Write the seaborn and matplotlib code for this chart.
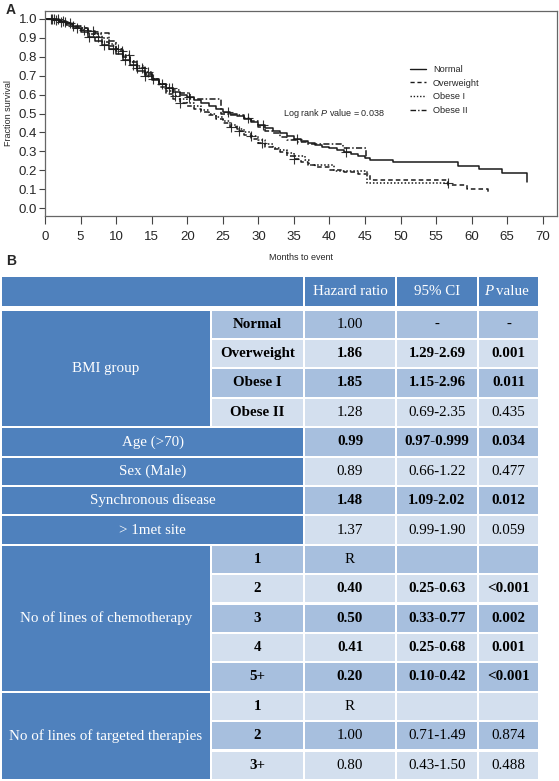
import numpy as np
import pandas as pd
import seaborn as sns
import matplotlib.pyplot as plt
from matplotlib.lines import Line2D
from matplotlib.patches import Rectangle

# ---- panel A: Kaplan-Meier curves ----
normal_months = [0, 1, 2, 3, 4, 5, 6, 7, 8, 9, 10, 11, 12, 13, 14, 15, 16, 17, 18, 19, 20,
                 21, 22, 23, 24, 25, 26, 27, 28, 29, 30, 31, 32, 33, 34, 35, 36, 37, 38, 39,
                 40, 41, 42, 43, 44, 45, 45.7, 49.0, 58.1, 61.1, 64.2, 67.8]
normal_surv = [1.0, 0.995, 0.985, 0.97, 0.95, 0.93, 0.905, 0.885, 0.86, 0.84, 0.815, 0.785,
               0.755, 0.725, 0.70, 0.675, 0.655, 0.635, 0.615, 0.60, 0.585, 0.57, 0.555, 0.54,
               0.525, 0.51, 0.497, 0.485, 0.47, 0.455, 0.44, 0.425, 0.41, 0.395, 0.38, 0.365,
               0.355, 0.345, 0.335, 0.325, 0.315, 0.305, 0.295, 0.285, 0.275, 0.265, 0.255,
               0.243, 0.225, 0.208, 0.183, 0.136]

overweight_months = [0, 2, 3, 4, 5, 6, 7, 8, 9, 10, 11, 12, 13, 14, 15, 16, 17, 18, 19, 20,
                     21, 22, 23, 24, 25, 26, 27, 28, 29, 30, 31, 32, 33, 34, 35, 36, 37, 38,
                     40, 42, 44, 45.7, 56.7, 59.3, 62.3]
overweight_surv = [1.0, 0.99, 0.975, 0.955, 0.94, 0.92, 0.905, 0.88, 0.855, 0.83, 0.80, 0.77,
                   0.74, 0.71, 0.68, 0.64, 0.605, 0.575, 0.555, 0.54, 0.525, 0.51, 0.49, 0.47,
                   0.45, 0.43, 0.405, 0.385, 0.365, 0.345, 0.325, 0.31, 0.295, 0.275, 0.26,
                   0.245, 0.23, 0.215, 0.20, 0.19, 0.18, 0.147, 0.12, 0.10, 0.083]

obese1_months = [0, 2, 3, 4, 5, 6, 7, 8, 9, 10, 11, 12, 13, 14, 15, 16, 17, 18, 19, 20, 21,
                 22, 23, 24, 25, 26, 27, 28, 29, 30, 31, 32, 33, 34, 35, 36.5, 37.1, 40.6,
                 45.3, 56.7]
obese1_surv = [1.0, 0.99, 0.98, 0.965, 0.95, 0.935, 0.92, 0.90, 0.87, 0.84, 0.81, 0.78, 0.75,
               0.72, 0.685, 0.655, 0.62, 0.595, 0.575, 0.555, 0.54, 0.52, 0.50, 0.48, 0.46,
               0.44, 0.42, 0.40, 0.38, 0.36, 0.34, 0.32, 0.305, 0.29, 0.275, 0.255, 0.23,
               0.195, 0.135, 0.135]

obese2_months = [0, 2, 3, 4, 5, 6, 7, 9, 10, 11, 12, 13, 14, 15, 16, 17, 18, 19, 20.4, 24.8,
                 26, 28, 29, 30, 31, 32, 33, 34, 35.5, 36.8, 41.9, 45.2]
obese2_surv = [1.0, 0.99, 0.98, 0.965, 0.95, 0.935, 0.925, 0.885, 0.84, 0.80, 0.77, 0.74,
               0.71, 0.68, 0.655, 0.635, 0.625, 0.61, 0.577, 0.50, 0.49, 0.475, 0.46, 0.43,
               0.41, 0.395, 0.375, 0.36, 0.35, 0.34, 0.315, 0.26]

# censored observations (months)
normal_cens = [0.8, 1.5, 2.2, 2.8, 4.5, 6.2, 8.3, 9.6, 11.2, 12.4, 14.1, 16.5, 17.4, 20.2,
               25.8, 30.7, 35.4, 42.3]
overweight_cens = [1.2, 2.5, 5.5, 7.4, 10.8, 13.6, 15.2, 19.0, 26.2, 27.3, 30.5, 35.0]
obese1_cens = [1.8, 3.5, 6.8, 11.8, 14.5, 18.3, 29.0, 56.7]
obese2_cens = [1.0, 4.0, 10.2, 13.0, 17.8, 28.5]

groups = ["Normal", "Overweight", "Obese I", "Obese II"]
log_rank_p = "0.038"

# ---- panel B: Cox model table ----
header = ["Hazard ratio", "95% CI", "P value"]
sub_labels = ["Normal", "Overweight", "Obese I", "Obese II", "", "", "", "",
              "1", "2", "3", "4", "5+", "1", "2", "3+"]
hazard = ["1.00", "1.86", "1.85", "1.28", "0.99", "0.89", "1.48", "1.37",
          "R", "0.40", "0.50", "0.41", "0.20", "R", "1.00", "0.80"]
ci95 = ["-", "1.29-2.69", "1.15-2.96", "0.69-2.35", "0.97-0.999", "0.66-1.22", "1.09-2.02",
        "0.99-1.90", "", "0.25-0.63", "0.33-0.77", "0.25-0.68", "0.10-0.42", "",
        "0.71-1.49", "0.43-1.50"]
pvals = ["-", "0.001", "0.011", "0.435", "0.034", "0.477", "0.012", "0.059",
         "", "<0.001", "0.002", "0.001", "<0.001", "", "0.874", "0.488"]
significant = [False, True, True, False, True, False, True, False,
               False, True, True, True, True, False, False, False]
# (label, first row, number of rows, spans the sub-label column too)
row_groups = [("BMI group", 0, 4, False), ("Age (>70)", 4, 1, True),
              ("Sex (Male)", 5, 1, True), ("Synchronous disease", 6, 1, True),
              ("> 1met site", 7, 1, True), ("No of lines of chemotherapy", 8, 5, False),
              ("No of lines of targeted therapies", 13, 3, False)]

sns.set_style("ticks")
plt.rcParams['font.family'] = ['Liberation Sans', 'DejaVu Sans']
plt.rcParams['mathtext.fontset'] = 'custom'
plt.rcParams['mathtext.rm'] = 'Liberation Sans'
plt.rcParams['mathtext.it'] = 'Liberation Sans:italic'

W, H = 559, 781
fig = plt.figure(figsize=(W / 100, H / 100), dpi=100)

def fx(x):
    return x / W

def fy(y):
    return 1 - y / H

# table axes in pixel units
tab = fig.add_axes([0, 0, 1, 1])
tab.set_xlim(0, W)
tab.set_ylim(H, 0)
tab.axis('off')

ax = fig.add_axes([fx(45), fy(216), 512 / W, 205 / H])

km = pd.concat([
    pd.DataFrame({'month': normal_months, 'survival': normal_surv, 'group': 'Normal'}),
    pd.DataFrame({'month': overweight_months, 'survival': overweight_surv, 'group': 'Overweight'}),
    pd.DataFrame({'month': obese1_months, 'survival': obese1_surv, 'group': 'Obese I'}),
    pd.DataFrame({'month': obese2_months, 'survival': obese2_surv, 'group': 'Obese II'}),
], ignore_index=True)

dash_map = {'Normal': '', 'Overweight': (3, 2), 'Obese I': (1, 1.3), 'Obese II': (4, 1.5, 1, 1.5)}
sns.lineplot(data=km, x='month', y='survival', style='group', dashes=dash_map,
             style_order=groups, color='#1a1a1a', drawstyle='steps-post', estimator=None,
             sort=False, legend=False, linewidth=1.1, ax=ax)

# censor marks sit on the step value at their time
cens_rows = []
for name, cm in [('Normal', normal_cens), ('Overweight', overweight_cens),
                 ('Obese I', obese1_cens), ('Obese II', obese2_cens)]:
    sub = km[km.group == name]
    m = sub.month.to_numpy()
    s = sub.survival.to_numpy()
    for t in cm:
        cens_rows.append((t, s[np.searchsorted(m, t, side='right') - 1], name))
cens = pd.DataFrame(cens_rows, columns=['month', 'survival', 'group'])
sns.scatterplot(data=cens, x='month', y='survival', marker='+', s=45, color='#333333',
                linewidth=0.8, legend=False, ax=ax)

ax.set_xlim(0, 72)
ax.set_ylim(-0.042, 1.042)
ax.set_xticks(range(0, 75, 5))
ax.set_yticks(np.arange(0, 1.01, 0.1))
ax.set_yticklabels([f"{v:.1f}" for v in np.arange(0, 1.01, 0.1)])
ax.tick_params(axis='x', labelsize=9.5, length=6, width=0.8, color='#444444', pad=4.5)
ax.tick_params(axis='y', labelsize=9.5, length=4.5, width=0.8, color='#444444', pad=1)
for sp in ax.spines.values():
    sp.set_color('#666666')
    sp.set_linewidth(0.9)
ax.set_xlabel("Months to event", fontsize=6.5)
ax.set_ylabel("Fraction survival", fontsize=6.5)
ax.xaxis.set_label_coords(0.5, -0.18)
ax.yaxis.set_label_coords(-0.062, 0.5)

handles = [Line2D([], [], color='#1a1a1a', lw=1.0, linestyle='-')]
for g in groups[1:]:
    handles.append(Line2D([], [], color='#1a1a1a', lw=1.0, dashes=dash_map[g]))
ax.legend(handles, groups, loc='upper left', bbox_to_anchor=((410 - 45) / 512, (216 - 65) / 205),
          frameon=False, fontsize=6.6, handlelength=1.7, handletextpad=0.8, labelspacing=0.5,
          borderpad=0, borderaxespad=0)

fig.text(fx(283), fy(113), f"Log rank $\\it{{P}}$ value = {log_rank_p}", fontsize=6.5,
         ha='left', va='center')
fig.text(fx(11), fy(10.5), "A", fontsize=10, fontweight='bold', ha='center', va='center')
fig.text(fx(11.5), fy(261), "B", fontsize=10, fontweight='bold', ha='center', va='center')

# ---- table ----
blue = '#4F81BD'
band = ['#A7BFDE', '#D3DFEE']
col_x = [1, 211, 304, 396, 478, 539]
head_y = (276, 307)
body_top = 309.5
row_h = 29.4
serif = ['Liberation Serif', 'DejaVu Serif']
fs = 10.8

def cell(x0, x1, y0, y1, color):
    tab.add_patch(Rectangle((x0 + 1, y0 + 1), x1 - x0 - 2, y1 - y0 - 2,
                            facecolor=color, edgecolor='none'))

def put(x, y, s, color='black', bold=False, style='normal', ha='center'):
    tab.text(x, y, s, ha=ha, va='center', fontsize=fs, family=serif, color=color,
             fontweight='bold' if bold else 'normal', fontstyle=style)

hy = (head_y[0] + head_y[1]) / 2
cell(col_x[0], col_x[2], head_y[0], head_y[1], blue)
for j in range(3):
    cell(col_x[2 + j], col_x[3 + j], head_y[0], head_y[1], blue)
put((col_x[2] + col_x[3]) / 2, hy, header[0], color='white')
put((col_x[3] + col_x[4]) / 2, hy, header[1], color='white')
pcx = (col_x[4] + col_x[5]) / 2
put(pcx - 15, hy, "P", color='white', style='italic', ha='right')
put(pcx - 12, hy, header[2].split(" ")[1], color='white', ha='left')

for i in range(len(hazard)):
    y0 = body_top + i * row_h
    y1 = y0 + row_h
    yc = (y0 + y1) / 2
    c = band[i % 2]
    for j in range(3):
        cell(col_x[2 + j], col_x[3 + j], y0, y1, c)
    if sub_labels[i]:
        cell(col_x[1], col_x[2], y0, y1, c)
        put((col_x[1] + col_x[2]) / 2, yc, sub_labels[i], bold=True)
    b = significant[i]
    put((col_x[2] + col_x[3]) / 2, yc, hazard[i], bold=b)
    put((col_x[3] + col_x[4]) / 2, yc, ci95[i], bold=b)
    put((col_x[4] + col_x[5]) / 2, yc, pvals[i], bold=b)

for label, first, n, wide in row_groups:
    y0 = body_top + first * row_h
    y1 = y0 + n * row_h
    x1 = col_x[2] if wide else col_x[1]
    cell(col_x[0], x1, y0, y1, blue)
    put((col_x[0] + x1) / 2, (y0 + y1) / 2, label, color='white')

fig.savefig("out.png", dpi=100)
